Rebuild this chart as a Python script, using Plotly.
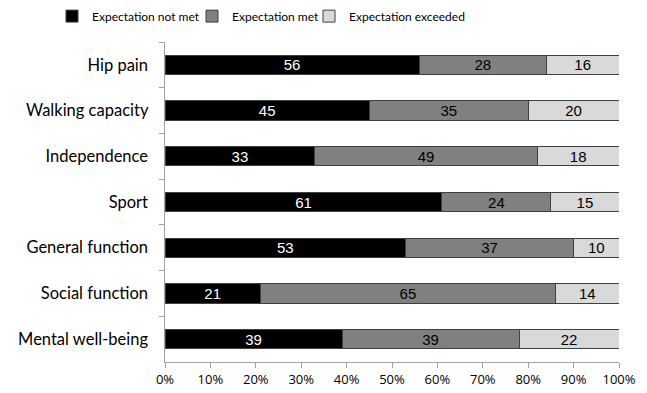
import plotly.graph_objects as go

categories = ["Hip pain", "Walking capacity", "Independence", "Sport",
              "General function", "Social function", "Mental well-being"]
not_met = [56, 45, 33, 61, 53, 21, 39]
met = [28, 35, 49, 24, 37, 65, 39]
exceeded = [16, 20, 18, 15, 10, 14, 22]
series_names = ["Expectation not met", "Expectation met", "Expectation exceeded"]
tick_vals = [0, 10, 20, 30, 40, 50, 60, 70, 80, 90, 100]
tick_text = [f"{v}%" for v in tick_vals]

colors = ["#000000", "#808080", "#d9d9d9"]
text_colors = ["#ffffff", "#000000", "#000000"]
legend_ids = ["legend", "legend2", "legend3"]
legend_x = [52 / 647, 192 / 647, 309 / 647]

fig = go.Figure()
for name, vals, c, tc, lg in zip(series_names, [not_met, met, exceeded], colors, text_colors, legend_ids):
    fig.add_trace(go.Bar(
        y=categories, x=vals, name=name, orientation="h",
        marker=dict(color=c, line=dict(color="#404040", width=1)),
        text=[str(v) for v in vals], textposition="inside", insidetextanchor="middle",
        textangle=0,
        textfont=dict(family="Liberation Sans, Arial", size=15, color=tc),
        constraintext="none", legend=lg,
    ))

legend_common = dict(orientation="h", xref="container", yref="container",
                     y=0.959, xanchor="left", yanchor="middle",
                     font=dict(size=12), itemwidth=30,
                     bgcolor="rgba(0,0,0,0)")
fig.update_layout(
    barmode="stack", bargap=0.58,
    width=647, height=393,
    margin=dict(l=165, r=28, t=42, b=31),
    paper_bgcolor="white", plot_bgcolor="white",
    font=dict(family="Lato, Open Sans, sans-serif", size=14, color="#000000"),
    legend=dict(x=legend_x[0], **legend_common),
    legend2=dict(x=legend_x[1], **legend_common),
    legend3=dict(x=legend_x[2], **legend_common),
    showlegend=True,
)
fig.update_xaxes(range=[0, 100], tickvals=tick_vals, ticktext=tick_text,
                 ticks="outside", ticklen=5, tickcolor="#a0a0a0",
                 showgrid=False, showline=True, linecolor="#a0a0a0", zeroline=False,
                 automargin=False,
                 tickfont=dict(family="Open Sans, sans-serif", size=13))
fig.update_yaxes(autorange="reversed", ticks="outside", tickson="boundaries",
                 ticklen=5, tickcolor="#a0a0a0", showline=True, linecolor="#a0a0a0",
                 showgrid=False, ticksuffix="   ", automargin=False,
                 tickfont=dict(size=16.5))

fig.write_html("out.html")
